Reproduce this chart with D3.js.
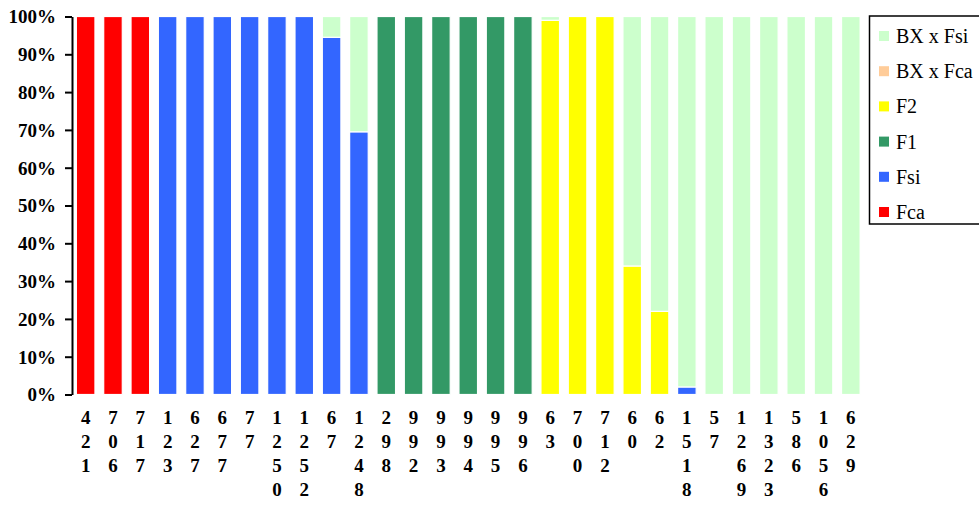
<!DOCTYPE html>
<html>
<head>
<meta charset="utf-8">
<script src="https://cdn.jsdelivr.net/npm/d3@7"></script>
<style>
  html, body { margin: 0; padding: 0; background: #fff; }
  svg { display: block; }
  .serif { font-family: "Liberation Serif", "Times New Roman", Times, "DejaVu Serif", serif; }
</style>
</head>
<body>
<svg id="chart" width="979" height="508"></svg>
<script>
// ---- data ----
const categories = ["421","706","717","123","627","677","77","1250","1252","67","1248","298","992","993","994","995","996","63","700","712","60","62","1518","57","1269","1323","586","1056","629"];
const seriesNames = ["Fca","Fsi","F1","F2","BX x Fca","BX x Fsi"];
const Fca      = [100,100,100,0,0,0,0,0,0,0,0,0,0,0,0,0,0,0,0,0,0,0,0,0,0,0,0,0,0];
const Fsi      = [0,0,0,100,100,100,100,100,100,94.5,69.5,0,0,0,0,0,0,0,0,0,0,0,2,0,0,0,0,0,0];
const F1       = [0,0,0,0,0,0,0,0,0,0,0,100,100,100,100,100,100,0,0,0,0,0,0,0,0,0,0,0,0];
const F2       = [0,0,0,0,0,0,0,0,0,0,0,0,0,0,0,0,0,99,100,100,34,22,0,0,0,0,0,0,0];
const BXxFca   = [0,0,0,0,0,0,0,0,0,0,0,0,0,0,0,0,0,0,0,0,0,0,0,0,0,0,0,0,0];
const BXxFsi   = [0,0,0,0,0,0,0,0,0,5.5,30.5,0,0,0,0,0,0,1,0,0,66,78,98,100,100,100,100,100,100];
const yTicks   = [0,10,20,30,40,50,60,70,80,90,100];
const colors   = ["#FF0000","#3366FF","#339966","#FFFF00","#FFCC99","#CCFFCC"];

const values = [Fca, Fsi, F1, F2, BXxFca, BXxFsi];
const table = categories.map((c, i) => {
  const row = { cat: c };
  seriesNames.forEach((s, k) => row[s] = values[k][i]);
  return row;
});

const svg = d3.select("#chart");
const x = d3.scaleBand().domain(categories).range([72, 864.5]).paddingInner(0.32).paddingOuter(0.16);
const y = d3.scaleLinear().domain([0, 100]).range([394.5, 16.5]);
const color = d3.scaleOrdinal().domain(seriesNames).range(colors);

const stack = d3.stack().keys(seriesNames);
const layers = stack(table);

svg.append("g").selectAll("g").data(layers).join("g")
  .attr("fill", d => color(d.key))
  .selectAll("rect").data(d => d.filter(p => p[1] - p[0] > 0)).join("rect")
  .attr("x", d => x(d.data.cat))
  .attr("width", x.bandwidth())
  .attr("y", d => y(d[1]))
  .attr("height", d => y(d[0]) - y(d[1]))
  .attr("stroke", "#fff")
  .attr("stroke-width", 1.2);

// y axis
const yAxis = d3.axisLeft(y).tickValues(yTicks).tickFormat(d => d + "%").tickSize(7).tickSizeOuter(0);
const gy = svg.append("g").attr("transform", "translate(72,0)").call(yAxis);
gy.attr("font-family", null).attr("font-size", null);
gy.select(".domain").attr("stroke", "#000").attr("stroke-width", 2);
gy.selectAll(".tick line").attr("stroke", "#000").attr("stroke-width", 2);
gy.selectAll(".tick text")
  .attr("class", "serif")
  .attr("x", -16)
  .attr("dy", "0.34em")
  .style("font-weight", "bold")
  .style("font-size", "19px")
  .attr("fill", "#000");

// x labels: stacked digits
const xl = svg.append("g");
categories.forEach(c => {
  const cx = x(c) + x.bandwidth() / 2;
  const t = xl.append("text")
    .attr("class", "serif")
    .attr("text-anchor", "middle")
    .style("font-weight", "bold")
    .style("font-size", "19px")
    .attr("fill", "#000");
  c.split("").forEach((ch, i) => {
    t.append("tspan").attr("x", cx).attr("y", 424 + i * 24).text(ch);
  });
});

// legend
const lg = svg.append("g");
lg.append("rect").attr("x", 869.5).attr("y", 16).attr("width", 120).attr("height", 208)
  .attr("fill", "#fff").attr("stroke", "#000").attr("stroke-width", 1.5);
const legendOrder = seriesNames.slice().reverse();
legendOrder.forEach((s, i) => {
  const cy = 36 + i * 35.2;
  lg.append("rect").attr("x", 879).attr("y", cy - 5).attr("width", 10).attr("height", 10).attr("fill", color(s));
  lg.append("text").attr("class", "serif").attr("x", 896).attr("y", cy).attr("dy", "0.35em")
    .style("font-size", "20px")
    .attr("fill", "#000")
    .text(s);
});
</script>
</body>
</html>
